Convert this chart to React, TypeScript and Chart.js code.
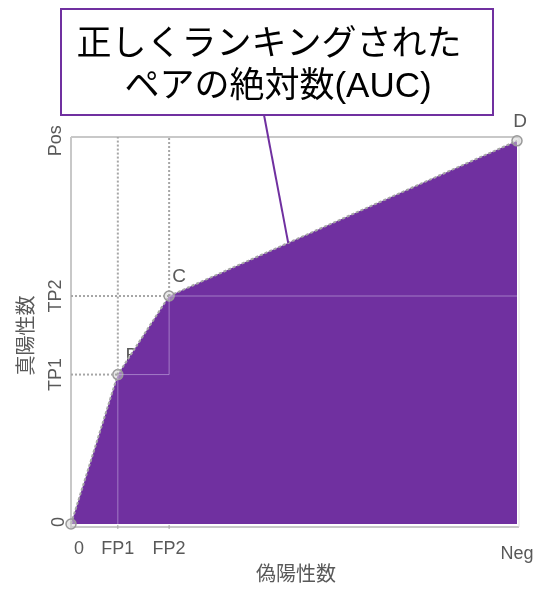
import React, { useEffect, useRef } from "react";
import { Chart, registerables } from "chart.js";

Chart.register(...registerables);

// ---- data ----
const X_MAX = 100; // Neg
const Y_MAX = 101; // a little headroom above Pos
const rocX = [0, 10.5, 22, 100];
const rocY = [0, 39, 59.5, 100];
const pointNames = ["", "B", "C", "D"];
const xTickValues = [0, 10.5, 22, 100];
const xTickLabels = ["0", "FP1", "FP2", "Neg"];
const yTickValues = [0, 39, 59.5, 100];
const yTickLabels = ["0", "TP1", "TP2", "Pos"];
const xTitle = "偽陽性数";
const yTitle = "真陽性数";
const calloutLines = ["正しくランキングされた", "ペアの絶対数(AUC)"];
const calloutTargetX = 48.7;

const PURPLE = "#7030A0";
const GRAY = "#A6A6A6";
const TEXT_GRAY = "#595959";
const FONT = '"Noto Sans CJK JP", "Noto Sans", sans-serif';
const LATIN = '"Liberation Sans", "Noto Sans CJK JP", sans-serif';

function interpY(x: number): number {
  for (let i = 0; i < rocX.length - 1; i++) {
    if (x >= rocX[i] && x <= rocX[i + 1]) {
      const t = (x - rocX[i]) / (rocX[i + 1] - rocX[i]);
      return rocY[i] + t * (rocY[i + 1] - rocY[i]);
    }
  }
  return rocY[rocY.length - 1];
}

const decorPlugin = {
  id: "decor",
  beforeDatasetsDraw(chart: any) {
    const { ctx, chartArea, scales } = chart;
    const xs = scales.x;
    const ys = scales.y;
    ctx.save();
    // frame lines
    ctx.strokeStyle = "#C8C8C8";
    ctx.lineWidth = 2;
    ctx.beginPath();
    ctx.moveTo(chartArea.left, chartArea.top);
    ctx.lineTo(chartArea.right + 2, chartArea.top);
    ctx.stroke();
    ctx.beginPath();
    ctx.moveTo(chartArea.left, chartArea.top);
    ctx.lineTo(chartArea.left, chartArea.bottom + 3);
    ctx.lineTo(chartArea.right + 2, chartArea.bottom + 3);
    ctx.stroke();
    ctx.strokeStyle = "#E0E0E0";
    ctx.lineWidth = 1;
    ctx.beginPath();
    ctx.moveTo(chartArea.right + 2, chartArea.top);
    ctx.lineTo(chartArea.right + 2, chartArea.bottom + 3);
    ctx.stroke();
    // point labels (drawn under the fill like the original)
    ctx.fillStyle = TEXT_GRAY;
    ctx.font = `19px ${LATIN}`;
    ctx.textAlign = "center";
    ctx.textBaseline = "middle";
    rocX.forEach((v, i) => {
      if (!pointNames[i]) return;
      const px = Math.min(xs.getPixelForValue(v) + 10, chartArea.right + 3);
      const py = ys.getPixelForValue(rocY[i]) - 19;
      ctx.fillText(pointNames[i], i === 1 ? px + 4 : px, py);
    });
    ctx.restore();
  },
  afterDraw(chart: any) {
    const { ctx, chartArea, scales } = chart;
    const xs = scales.x;
    const ys = scales.y;
    ctx.save();
    ctx.fillStyle = TEXT_GRAY;
    // x tick labels
    ctx.font = `18px ${LATIN}`;
    ctx.textBaseline = "middle";
    ctx.textAlign = "center";
    xTickValues.forEach((v, i) => {
      let px = xs.getPixelForValue(v);
      let py = chartArea.bottom + 25;
      if (i === 0) px += 8;
      if (i === xTickValues.length - 1) py += 5;
      ctx.fillText(xTickLabels[i], px, py);
    });
    // small ticks on x axis
    ctx.strokeStyle = GRAY;
    ctx.lineWidth = 1;
    xTickValues.slice(1, 3).forEach((v) => {
      const px = xs.getPixelForValue(v);
      ctx.beginPath();
      ctx.moveTo(px, chartArea.bottom + 1);
      ctx.lineTo(px, chartArea.bottom + 5);
      ctx.stroke();
    });
    // y tick labels (rotated)
    yTickValues.forEach((v, i) => {
      const py = ys.getPixelForValue(v);
      ctx.save();
      ctx.translate(chartArea.left - (i === 0 ? 12 : 15), py - (i === 0 ? 2 : 0));
      ctx.rotate(-Math.PI / 2);
      ctx.textAlign = "center";
      ctx.textBaseline = "middle";
      ctx.fillText(yTickLabels[i], 0, 0);
      ctx.restore();
    });
    // axis titles
    ctx.font = `20px ${FONT}`;
    ctx.textAlign = "center";
    ctx.fillText(xTitle, (chartArea.left + chartArea.right) / 2 + 2, chartArea.bottom + 49);
    ctx.save();
    ctx.translate(chartArea.left - 46, (chartArea.top + chartArea.bottom) / 2 + 5);
    ctx.rotate(-Math.PI / 2);
    ctx.fillText(yTitle, 0, 0);
    ctx.restore();

    // callout
    const bx = 61, by = 9, bw = 432, bh = 106;
    const tx = xs.getPixelForValue(calloutTargetX);
    const ty = ys.getPixelForValue(interpY(calloutTargetX));
    ctx.strokeStyle = PURPLE;
    ctx.lineWidth = 2;
    ctx.beginPath();
    ctx.moveTo(264, by + bh);
    ctx.lineTo(tx, ty);
    ctx.stroke();
    ctx.fillStyle = "#FFFFFF";
    ctx.fillRect(bx, by, bw, bh);
    ctx.strokeRect(bx, by, bw, bh);
    ctx.fillStyle = "#000000";
    ctx.font = `35px ${FONT}`;
    ctx.textAlign = "center";
    ctx.textBaseline = "middle";
    ctx.fillText(calloutLines[0], 269, 42);
    ctx.font = `35px ${LATIN}`;
    ctx.fillText(calloutLines[1], 278, 87);
    ctx.restore();
  },
};

export default function App() {
  const ref = useRef<HTMLCanvasElement | null>(null);
  useEffect(() => {
    if (!ref.current) return;
    const roc = rocX.map((x, i) => ({ x, y: rocY[i] }));
    const steps = [
      { x: rocX[1], y: 0 },
      { x: rocX[1], y: rocY[1] },
      { x: rocX[2], y: rocY[1] },
      { x: rocX[2], y: rocY[2] },
      { x: rocX[3], y: rocY[2] },
    ];
    const guide = (pts: { x: number; y: number }[]) => ({
      type: "line" as const,
      data: pts,
      borderColor: GRAY,
      borderWidth: 2,
      borderDash: [2, 2],
      pointRadius: 0,
      fill: false,
      order: 0,
    });
    const chart = new Chart(ref.current, {
      type: "line",
      data: {
        datasets: [
          {
            data: roc,
            fill: "origin",
            backgroundColor: PURPLE,
            borderColor: GRAY,
            borderWidth: 2,
            borderDash: [3, 2],
            pointRadius: 5,
            pointBorderWidth: 1.5,
            pointBorderColor: "#9A9A9A",
            pointBackgroundColor: "rgba(210,210,210,0.5)",
            tension: 0,
            order: 2,
          },
          {
            data: steps,
            fill: false,
            borderColor: "rgba(205,185,230,0.55)",
            borderWidth: 1,
            pointRadius: 0,
            order: 1,
          },
          guide([{ x: rocX[1], y: rocY[1] }, { x: rocX[1], y: Y_MAX }]),
          guide([{ x: rocX[2], y: rocY[2] }, { x: rocX[2], y: Y_MAX }]),
          guide([{ x: 0, y: rocY[1] }, { x: rocX[1], y: rocY[1] }]),
          guide([{ x: 0, y: rocY[2] }, { x: rocX[2], y: rocY[2] }]),
        ] as any,
      },
      options: {
        animation: false,
        responsive: false,
        maintainAspectRatio: false,
        layout: { autoPadding: false, padding: { left: 71, right: 35, top: 137, bottom: 76 } },
        plugins: { legend: { display: false }, tooltip: { enabled: false } },
        scales: {
          x: { type: "linear", min: 0, max: X_MAX, display: false },
          y: { type: "linear", min: 0, max: Y_MAX, display: false },
        },
        clip: false as any,
      },
      plugins: [decorPlugin],
    });
    return () => chart.destroy();
  }, []);
  return (
    <div style={{ position: "fixed", left: 0, top: 0, width: 552, height: 600, background: "#fff" }}>
      <canvas ref={ref} width={552} height={600} style={{ width: 552, height: 600, display: "block" }} />
    </div>
  );
}
